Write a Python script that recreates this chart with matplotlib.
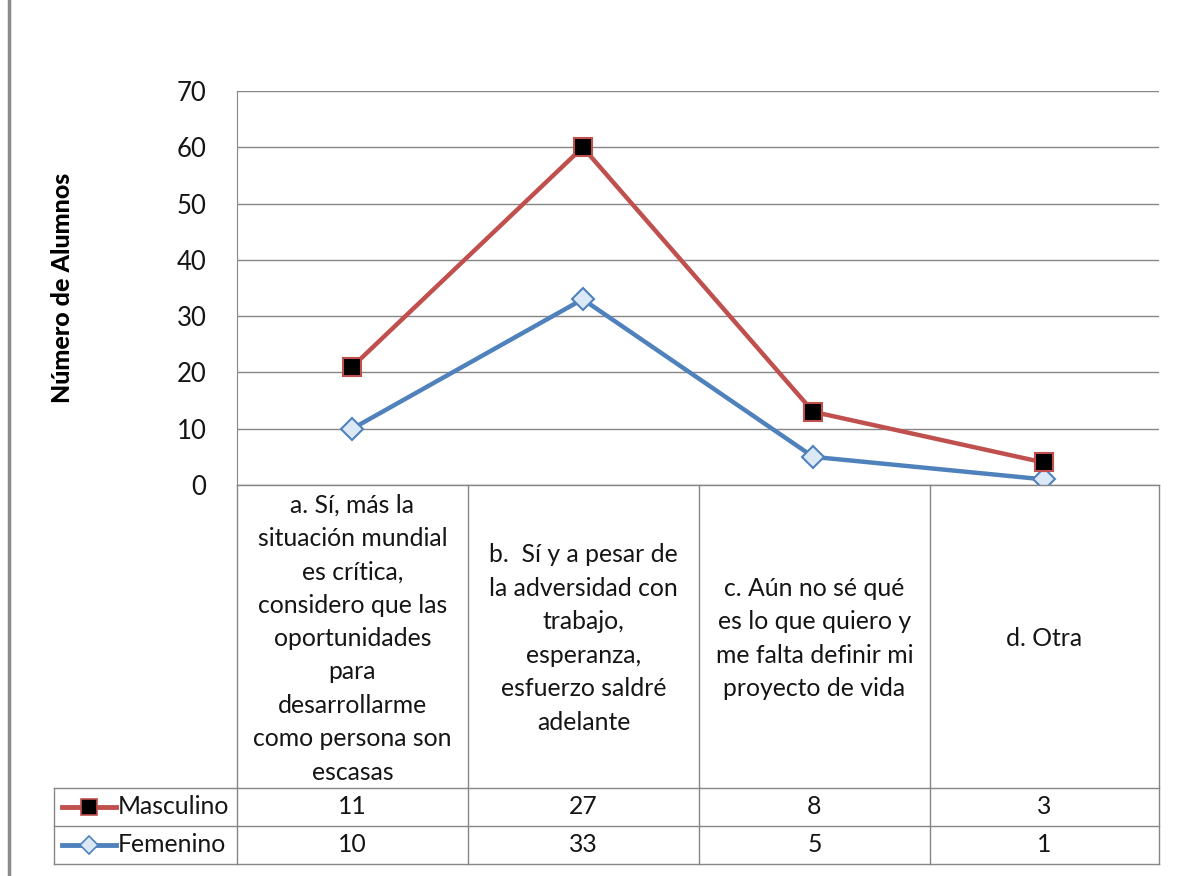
import matplotlib
matplotlib.use("Agg")
import matplotlib.pyplot as plt
from matplotlib.lines import Line2D

plt.rcParams['font.family'] = ['Lato', 'DejaVu Sans']

categories = [
    "a. Sí, más la\nsituación mundial\nes crítica,\nconsidero que las\noportunidades\npara\ndesarrollarme\ncomo persona son\nescasas",
    "b.  Sí y a pesar de\nla adversidad con\ntrabajo,\nesperanza,\nesfuerzo saldré\nadelante",
    "c. Aún no sé qué\nes lo que quiero y\nme falta definir mi\nproyecto de vida",
    "d. Otra",
]
masculino = [11, 27, 8, 3]
femenino = [10, 33, 5, 1]
series_names = ["Masculino", "Femenino"]
yticks = [0, 10, 20, 30, 40, 50, 60, 70]
ylabel = "Número de Alumnos"

W, H = 1180, 876
fig = plt.figure(figsize=(W / 100, H / 100), dpi=100)

def fx(px):
    return px / W

def fy(py):
    return 1 - py / H

ax_l, ax_r, ax_t, ax_b = 237, 1159, 91, 485
ax = fig.add_axes([fx(ax_l), fy(ax_b), fx(ax_r - ax_l), (ax_b - ax_t) / H])

n = len(categories)
xs = list(range(n))
stacked_m = [f + m for f, m in zip(femenino, masculino)]

red = "#C0504D"
blue = "#4F81BD"
grid_c = "#868686"
txt_c = "#151515"
fs = 17.8

ax.plot(xs, femenino, color=blue, lw=3.2, marker="D", markersize=11,
        markerfacecolor="#DBE8F5", markeredgecolor=blue, markeredgewidth=1.5,
        zorder=3, solid_joinstyle="round")
ax.plot(xs, stacked_m, color=red, lw=3.2, marker="s", markersize=13.5,
        markerfacecolor="black", markeredgecolor=red, markeredgewidth=1.5,
        zorder=4, solid_joinstyle="round")

ax.set_xlim(-0.5, n - 0.5)
ax.set_ylim(0, 70)
ax.set_yticks(yticks)
ax.set_yticklabels([str(t) for t in yticks], fontsize=18.5, color=txt_c)
ax.set_xticks([])
ax.tick_params(axis="y", length=0, pad=22)
ax.yaxis.grid(True, color=grid_c, lw=1)
ax.set_axisbelow(True)
for side in ["top", "right", "bottom"]:
    ax.spines[side].set_visible(False)
ax.spines["left"].set_color(grid_c)

fig.text(fx(62), fy(288), ylabel, rotation=90, ha="center", va="center",
         fontsize=18, fontweight="black", color="black")

# Data table
col_edges = [237, 468, 699, 930, 1159]
row_cat_bot = 788
row1_bot = 826
row2_bot = 864
tab_left = 54
lc = grid_c
def hline(x0, x1, y):
    fig.add_artist(Line2D([fx(x0), fx(x1)], [fy(y), fy(y)], color=lc, lw=1))
def vline(x, y0, y1):
    fig.add_artist(Line2D([fx(x), fx(x)], [fy(y0), fy(y1)], color=lc, lw=1))

hline(237, 1159, ax_b)
hline(tab_left, 1159, row_cat_bot)
hline(tab_left, 1159, row1_bot)
hline(tab_left, 1159, row2_bot)
for x in col_edges:
    vline(x, ax_b, row2_bot)
vline(tab_left, row_cat_bot, row2_bot)

for i, cat in enumerate(categories):
    cx = (col_edges[i] + col_edges[i + 1]) / 2
    fig.text(fx(cx), fy((ax_b + row_cat_bot) / 2 + 2), cat, ha="center", va="center",
             fontsize=fs, linespacing=1.55, color=txt_c)

rows = [(masculino, (row_cat_bot + row1_bot) / 2), (femenino, (row1_bot + row2_bot) / 2)]
for vals, cy in rows:
    for i, v in enumerate(vals):
        cx = (col_edges[i] + col_edges[i + 1]) / 2
        fig.text(fx(cx), fy(cy), str(v), ha="center", va="center",
                 fontsize=fs, color=txt_c)

# legend keys in table
styles = [
    dict(color=red, marker="s", markersize=12, markerfacecolor="black",
         markeredgecolor=red, markeredgewidth=1.2),
    dict(color=blue, marker="D", markersize=9, markerfacecolor="#DBE8F5",
         markeredgecolor=blue, markeredgewidth=1.2),
]
for (vals, cy), name, st in zip(rows, series_names, styles):
    fig.add_artist(Line2D([fx(62), fx(116)], [fy(cy), fy(cy)], lw=3.5,
                          color=st["color"]))
    fig.add_artist(Line2D([fx(89)], [fy(cy)], lw=0, **st))
    fig.text(fx(118), fy(cy), name, ha="left", va="center", fontsize=fs,
             color=txt_c)

# left page border
fig.add_artist(Line2D([fx(9), fx(9)], [0, 1], color="#8a8a8a", lw=2.5))

fig.savefig("out.png", dpi=100)
